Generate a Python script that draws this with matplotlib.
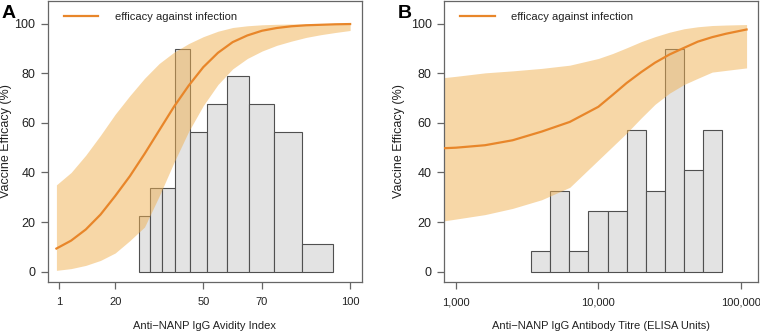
import numpy as np
import matplotlib
matplotlib.use("Agg")
import matplotlib.pyplot as plt

plt.rcParams['font.family'] = ['Liberation Sans', 'DejaVu Sans']

# panel A: avidity index
avid_x = [0, 5, 10, 15, 20, 25, 30, 35, 40, 45, 50, 55, 60, 65, 70, 75, 80, 85, 90, 95, 100]
avid_eff = [9.3, 12.5, 17, 23, 30.5, 38.5, 47.5, 57, 66.5, 75, 82.5, 88.3, 92.6, 95.3, 97.2,
            98.3, 99.0, 99.4, 99.6, 99.8, 99.9]
avid_hi = [35, 40, 47, 55, 63.5, 71, 78, 84, 88.5, 92, 94.8, 97, 98.5, 99.2, 99.6,
           99.8, 99.9, 99.9, 99.9, 100, 100]
avid_lo = [0.5, 1.2, 2.5, 4.5, 7.5, 12.5, 18, 30.5, 44, 56.5, 67, 75.5, 81.8, 86, 89,
           91.3, 93, 94.5, 95.6, 96.5, 97.3]
avid_edges = [28.1, 31.8, 35.8, 40.3, 45.6, 51.3, 58.1, 65.5, 74.1, 83.6, 94.1]
avid_hist = [22.5, 33.75, 33.75, 90, 56.25, 67.5, 78.75, 67.5, 56.25, 11.25]
avid_ticks = [1, 20, 50, 70, 100]

# panel B: antibody titre
titre_x = [830, 1000, 1600, 2500, 4000, 6300, 10000, 12600, 15800, 20000, 25000,
           31600, 40000, 50000, 63000, 79000, 110000]
titre_eff = [49.8, 50.0, 51.0, 53.0, 56.5, 60.4, 66.5, 71.3, 76.1, 80.5, 84.3,
             87.6, 90.3, 92.8, 94.6, 96.0, 97.7]
titre_hi = [78.3, 78.8, 80.2, 81.0, 82.0, 83.3, 86.0, 88.0, 90.3, 92.8, 94.8,
            96.6, 98.0, 98.8, 99.3, 99.5, 99.7]
titre_lo = [20.5, 21.2, 23.0, 25.5, 29.0, 34.0, 45.0, 50.5, 55.9, 62.0, 67.5,
            72.0, 75.5, 78.0, 80.5, 81.2, 82.2]
titre_edges = [3350, 4570, 6250, 8490, 11640, 15810, 21530, 29380, 39990, 54580, 74300]
titre_hist = [8.2, 32.7, 8.2, 24.5, 24.5, 57.3, 32.7, 90, 40.9, 57.3]
titre_ticks = [1000, 10000, 100000]
titre_labels = ['1,000', '10,000', '100,000']

line_col = '#E8862A'
band_col = '#F0B050'
grey = '#666666'
txt = '#222222'

fig = plt.figure(figsize=(7.6, 3.32), dpi=100)
axA = fig.add_axes([0.0628, 0.1506, 0.4132, 0.8464])
axB = fig.add_axes([0.5846, 0.1506, 0.4134, 0.8464])


def draw(ax, x, eff, hi, lo, edges, hist):
    widths = np.diff(edges)
    ax.bar(edges[:-1], hist, width=widths, align='edge', color='#E3E3E3',
           edgecolor='#505050', linewidth=0.8, zorder=1)
    ax.fill_between(x, lo, hi, color=band_col, alpha=0.5, linewidth=0, zorder=2)
    ax.plot(x, eff, color=line_col, lw=1.6, zorder=3,
            label='efficacy against infection')
    ax.set_ylim(-4.2, 109.2)
    ax.set_yticks([0, 20, 40, 60, 80, 100])
    for s in ax.spines.values():
        s.set_color(grey)
        s.set_linewidth(0.9)
    ax.tick_params(colors=grey, labelcolor=txt, length=5, width=0.9)
    ax.tick_params(axis='y', labelsize=9, pad=4)
    ax.tick_params(axis='x', labelsize=8, pad=6)
    ax.set_ylabel('Vaccine Efficacy (%)', fontsize=9, color=txt)
    leg = ax.legend(loc='upper left', bbox_to_anchor=(0.051, 0.962), frameon=False,
                    fontsize=8, handlelength=3.1, handletextpad=1.5,
                    borderpad=0, borderaxespad=0)
    for t in leg.get_texts():
        t.set_color(txt)


draw(axA, avid_x, avid_eff, avid_hi, avid_lo, avid_edges, avid_hist)
axA.set_xlim(-2.96, 103.96)
axA.set_xticks(avid_ticks)
axA.set_xlabel('Anti\u2212NANP IgG Avidity Index', fontsize=8, color=txt)
axA.xaxis.set_label_coords(0.5, -0.14)
axA.yaxis.set_label_coords(-0.115, 0.5)

draw(axB, titre_x, titre_eff, titre_hi, titre_lo, titre_edges, titre_hist)
axB.set_xscale('log')
axB.set_xlim(10 ** 2.918, 10 ** 5.125)
axB.set_xticks(titre_ticks)
axB.set_xticklabels(titre_labels)
axB.minorticks_off()
axB.set_xlabel('Anti\u2212NANP IgG Antibody Titre (ELISA Units)', fontsize=8, color=txt)
axB.xaxis.set_label_coords(0.5, -0.14)
axB.yaxis.set_label_coords(-0.125, 0.5)

fig.text(0.002, 0.985, 'A', fontsize=14, fontweight='bold', va='top', ha='left')
fig.text(0.523, 0.985, 'B', fontsize=14, fontweight='bold', va='top', ha='left')

fig.savefig('out.png', dpi=100)
